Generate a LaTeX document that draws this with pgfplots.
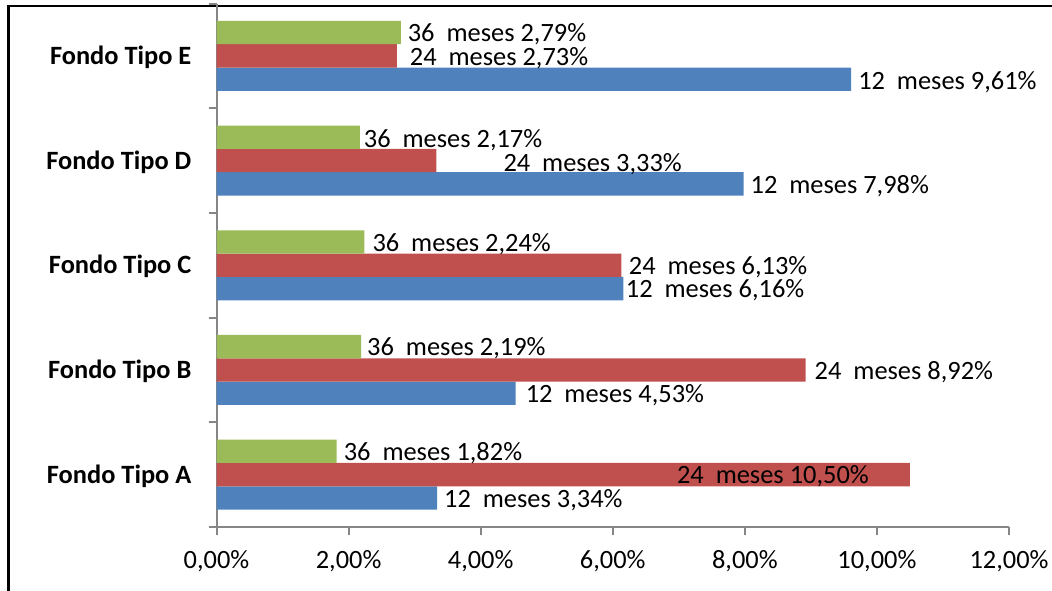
\documentclass[border=0pt]{standalone}
\usepackage{pgfplots}
\pgfplotsset{compat=1.18}
\usepackage{fontspec}
\setmainfont{Carlito}
\definecolor{cblue}{HTML}{4F81BD}
\definecolor{cred}{HTML}{C0504D}
\definecolor{cgreen}{HTML}{9BBB59}
\definecolor{axgray}{HTML}{868686}
\pgfplotstableread{
y x lab dx dy
0 3.34 3,34 0 0
1 4.53 4,53 3 0
2 6.16 6,16 -4.5 0
3 7.98 7,98 0 0
4 9.61 9,61 0 1
}\twelve
\pgfplotstableread{
y x lab dx dy
0 10.50 10,50 -240 0
1 8.92 8,92 2 0
2 6.13 6,13 0.5 0
3 3.33 3,33 60 1.5
4 2.73 2,73 6 0.5
}\twentyfour
\pgfplotstableread{
y x lab dx dy
0 1.82 1,82 0 0
1 2.19 2,19 -1 0
2 2.24 2,24 1 0
3 2.17 2,17 -3 1
4 2.79 2,79 0 0
}\thirtysix
\begin{document}
\fontsize{13.2}{15.8}\selectfont
\begin{tikzpicture}
\useasboundingbox (0,0) rectangle (526pt,-295pt);
\draw[black, line width=1.1pt] (4.2pt,-400pt) -- (4.2pt,-2.9pt) -- (600pt,-2.9pt);
\begin{axis}[
  at={(108.25pt,-263.5pt)}, anchor=south west,
  scale only axis, width=396.25pt, height=261.75pt,
  xmin=0, xmax=12, ymin=-0.5, ymax=4.5,
  clip=false,
  axis lines*=left,
  axis line style={axgray, line width=1pt},
  tick style={axgray, line width=1pt},
  tick align=outside, major tick length=4pt,
  xtick={0,2,4,6,8,10,12},
  xticklabels={{0,00\%},{2,00\%},{4,00\%},{6,00\%},{8,00\%},{10,00\%},{12,00\%}},
  xticklabel style={anchor=north, inner sep=0pt, text height=0.632em, text depth=0pt, yshift=-8.2pt, font=\fontsize{13.2}{15.8}\selectfont},
  ytick={-0.5,0.5,1.5,2.5,3.5,4.5},
  yticklabels={},
  extra y ticks={0,1,2,3,4},
  extra y tick labels={Fondo Tipo A,Fondo Tipo B,Fondo Tipo C,Fondo Tipo D,Fondo Tipo E},
  extra y tick style={major tick length=0pt, yticklabel style={anchor=east, inner sep=0pt, text height=0.644em, text depth=0pt, xshift=-12.4pt, font=\fontsize{13.2}{15.8}\selectfont\bfseries}},
  xbar, bar width=11.67pt,
  point meta=explicit symbolic,
  visualization depends on={\thisrow{dx}\as\dx},
  visualization depends on={\thisrow{dy}\as\dy},
  nodes near coords style={anchor=west, inner sep=0pt, text height=0.7em, text depth=0pt, black,
     font=\fontsize{13.2}{15.8}\selectfont,
     xshift={(3.35+0.5*\dx)*1pt}, yshift={-0.5*\dy*1pt}},
]
\addplot[fill=cblue, draw=none, bar shift=-11.67pt,
  nodes near coords={12~~meses \pgfplotspointmeta\%}]
  table[x=x, y=y, meta=lab] {\twelve};
\addplot[fill=cred, draw=none, bar shift=0pt,
  nodes near coords={24~~meses \pgfplotspointmeta\%}]
  table[x=x, y=y, meta=lab] {\twentyfour};
\addplot[fill=cgreen, draw=none, bar shift=11.67pt,
  nodes near coords={36~~meses \pgfplotspointmeta\%}]
  table[x=x, y=y, meta=lab] {\thirtysix};
\end{axis}
\end{tikzpicture}
\end{document}
